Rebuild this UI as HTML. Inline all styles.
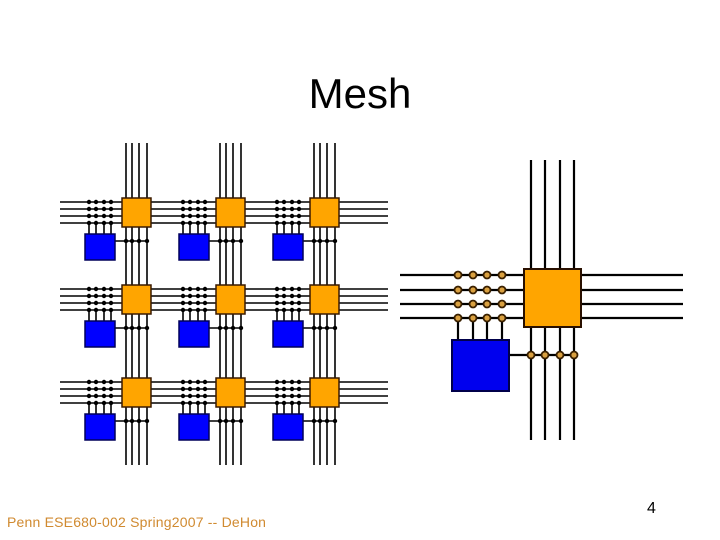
<!DOCTYPE html>
<html><head><meta charset="utf-8"><style>
html,body{margin:0;padding:0;background:#fff;}
svg{display:block}
</style></head><body>
<svg width="720" height="540" viewBox="0 0 720 540" xmlns="http://www.w3.org/2000/svg">
<defs>
<g id="t">
  <g stroke="#000" stroke-width="1.6">
    <line x1="-33" y1="25" x2="-33" y2="36"/><line x1="-26" y1="25" x2="-26" y2="36"/>
    <line x1="-18" y1="25" x2="-18" y2="36"/><line x1="-11" y1="25" x2="-11" y2="36"/>
    <line x1="-7" y1="43" x2="25" y2="43"/>
  </g>
  <rect x="0" y="0" width="29" height="29" fill="#ffa500" stroke="#3a1a00" stroke-width="1.5"/>
  <rect x="-37" y="36" width="30" height="26" fill="#0000ff" stroke="#00005a" stroke-width="1.5"/>
  <g fill="#000">
    <circle cx="-33" cy="4" r="2.2"/><circle cx="-26" cy="4" r="2.2"/><circle cx="-18" cy="4" r="2.2"/><circle cx="-11" cy="4" r="2.2"/>
    <circle cx="-33" cy="11" r="2.2"/><circle cx="-26" cy="11" r="2.2"/><circle cx="-18" cy="11" r="2.2"/><circle cx="-11" cy="11" r="2.2"/>
    <circle cx="-33" cy="18" r="2.2"/><circle cx="-26" cy="18" r="2.2"/><circle cx="-18" cy="18" r="2.2"/><circle cx="-11" cy="18" r="2.2"/>
    <circle cx="-33" cy="25" r="2.2"/><circle cx="-26" cy="25" r="2.2"/><circle cx="-18" cy="25" r="2.2"/><circle cx="-11" cy="25" r="2.2"/>
    <circle cx="4" cy="43" r="2.2"/><circle cx="10" cy="43" r="2.2"/><circle cx="17" cy="43" r="2.2"/><circle cx="25" cy="43" r="2.2"/>
  </g>
</g>
</defs>
<text x="360" y="108" font-family="Liberation Sans, sans-serif" font-size="42" text-anchor="middle">Mesh</text>

<g stroke="#000" stroke-width="1.6">
  <line x1="60" y1="202" x2="388" y2="202"/><line x1="60" y1="209" x2="388" y2="209"/><line x1="60" y1="216" x2="388" y2="216"/><line x1="60" y1="223" x2="388" y2="223"/>
  <line x1="60" y1="289" x2="388" y2="289"/><line x1="60" y1="296" x2="388" y2="296"/><line x1="60" y1="303" x2="388" y2="303"/><line x1="60" y1="310" x2="388" y2="310"/>
  <line x1="60" y1="382" x2="388" y2="382"/><line x1="60" y1="389" x2="388" y2="389"/><line x1="60" y1="396" x2="388" y2="396"/><line x1="60" y1="403" x2="388" y2="403"/>
  <line x1="126" y1="143" x2="126" y2="465"/><line x1="132" y1="143" x2="132" y2="465"/><line x1="139" y1="143" x2="139" y2="465"/><line x1="147" y1="143" x2="147" y2="465"/>
  <line x1="220" y1="143" x2="220" y2="465"/><line x1="226" y1="143" x2="226" y2="465"/><line x1="233" y1="143" x2="233" y2="465"/><line x1="241" y1="143" x2="241" y2="465"/>
  <line x1="314" y1="143" x2="314" y2="465"/><line x1="320" y1="143" x2="320" y2="465"/><line x1="327" y1="143" x2="327" y2="465"/><line x1="335" y1="143" x2="335" y2="465"/>
</g>
<use href="#t" x="122" y="198"/><use href="#t" x="216" y="198"/><use href="#t" x="310" y="198"/>
<use href="#t" x="122" y="285"/><use href="#t" x="216" y="285"/><use href="#t" x="310" y="285"/>
<use href="#t" x="122" y="378"/><use href="#t" x="216" y="378"/><use href="#t" x="310" y="378"/>

<g stroke="#000" stroke-width="2.2">
  <line x1="400" y1="275" x2="683" y2="275"/><line x1="400" y1="290" x2="683" y2="290"/><line x1="400" y1="304" x2="683" y2="304"/><line x1="400" y1="318" x2="683" y2="318"/>
  <line x1="531" y1="160" x2="531" y2="440"/><line x1="545" y1="160" x2="545" y2="440"/><line x1="560" y1="160" x2="560" y2="440"/><line x1="574" y1="160" x2="574" y2="440"/>
  <line x1="458" y1="318" x2="458" y2="340"/><line x1="473" y1="318" x2="473" y2="340"/><line x1="487" y1="318" x2="487" y2="340"/><line x1="502" y1="318" x2="502" y2="340"/>
  <line x1="509" y1="355" x2="574" y2="355"/>
</g>
<rect x="524" y="269" width="57" height="58" fill="#ffa500" stroke="#2a1000" stroke-width="2"/>
<rect x="452" y="340" width="57" height="51" fill="#0000ee" stroke="#00004a" stroke-width="2"/>
<g fill="#d9a040" stroke="#3a2000" stroke-width="1.8">
  <circle cx="458" cy="275" r="3.5"/><circle cx="473" cy="275" r="3.5"/><circle cx="487" cy="275" r="3.5"/><circle cx="502" cy="275" r="3.5"/>
  <circle cx="458" cy="290" r="3.5"/><circle cx="473" cy="290" r="3.5"/><circle cx="487" cy="290" r="3.5"/><circle cx="502" cy="290" r="3.5"/>
  <circle cx="458" cy="304" r="3.5"/><circle cx="473" cy="304" r="3.5"/><circle cx="487" cy="304" r="3.5"/><circle cx="502" cy="304" r="3.5"/>
  <circle cx="458" cy="318" r="3.5"/><circle cx="473" cy="318" r="3.5"/><circle cx="487" cy="318" r="3.5"/><circle cx="502" cy="318" r="3.5"/>
  <circle cx="531" cy="355" r="3.5"/><circle cx="545" cy="355" r="3.5"/><circle cx="560" cy="355" r="3.5"/><circle cx="574" cy="355" r="3.5"/>
</g>

<text x="7" y="527" font-family="Liberation Sans, sans-serif" font-size="14" letter-spacing="0.2" fill="#d08a30">Penn ESE680-002 Spring2007 -- DeHon</text>
<text x="647" y="513" font-family="Liberation Sans, sans-serif" font-size="16" fill="#000">4</text>
</svg>
</body></html>
